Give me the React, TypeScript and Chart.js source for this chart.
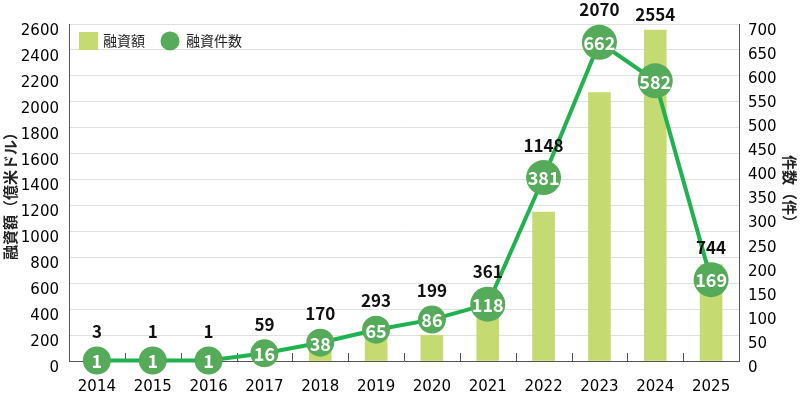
import React, { useEffect, useRef } from "react";
import { Chart, registerables } from "chart.js";

Chart.register(...registerables);

const years = ["2014", "2015", "2016", "2017", "2018", "2019", "2020", "2021", "2022", "2023", "2024", "2025"];
const amounts = [3, 1, 1, 59, 170, 293, 199, 361, 1148, 2070, 2554, 744];
const counts = [1, 1, 1, 16, 38, 65, 86, 118, 381, 662, 582, 169];
const amountLabel = "融資額";
const countLabel = "融資件数";
const leftTitle = "融資額（億米ドル）";
const rightTitle = "件数（件）";

const BAR_COLOR = "#c5db71";
const LINE_COLOR = "#1fb24e";
const POINT_COLOR = "#56ab5a";
const CJK = "'Noto Sans CJK JP', 'Noto Sans', sans-serif";
const TICK_FONT = "'DejaVu Sans', sans-serif";

const pointRadius = (v: number) => (v >= 100 ? 17.5 : 14);

const categoryTicks = {
  id: "categoryTicks",
  beforeDatasetsDraw(chart: any) {
    const { ctx, chartArea } = chart;
    const x = chart.scales.x;
    const n = years.length;
    const w = (chartArea.right - chartArea.left) / n;
    ctx.save();
    ctx.strokeStyle = "#555";
    ctx.lineWidth = 1;
    for (let i = 1; i < n; i++) {
      const px = Math.round(x.left + i * w) + 0.5;
      ctx.beginPath();
      ctx.moveTo(px, chartArea.bottom);
      ctx.lineTo(px, chartArea.bottom - 8);
      ctx.stroke();
    }
    ctx.restore();
  },
};

const valueLabels = {
  id: "valueLabels",
  afterDatasetsDraw(chart: any) {
    const { ctx } = chart;
    const barMeta = chart.getDatasetMeta(1);
    const lineMeta = chart.getDatasetMeta(0);
    ctx.save();
    ctx.textAlign = "center";
    ctx.textBaseline = "middle";
    for (let i = 0; i < years.length; i++) {
      const bar = barMeta.data[i];
      const pt = lineMeta.data[i];
      const top = Math.min(bar.y, pt.y - pointRadius(counts[i]));
      ctx.fillStyle = "#111";
      ctx.font = `bold 17px ${CJK}`;
      ctx.fillText(String(amounts[i]), bar.x, top - 15);
      ctx.fillStyle = "#fff";
      ctx.font = `bold 18px ${CJK}`;
      ctx.fillText(String(counts[i]), pt.x, pt.y + 1);
    }
    ctx.restore();
  },
};

const customLegend = {
  id: "customLegend",
  afterDraw(chart: any) {
    const { ctx, chartArea } = chart;
    const x0 = chartArea.left + 10;
    const cy = chartArea.top + 17;
    ctx.save();
    ctx.fillStyle = BAR_COLOR;
    ctx.fillRect(x0, cy - 9, 19, 18);
    ctx.font = `14px ${CJK}`;
    ctx.textBaseline = "middle";
    ctx.textAlign = "left";
    ctx.fillStyle = "#222";
    ctx.fillText(amountLabel, x0 + 24, cy);
    const w1 = ctx.measureText(amountLabel).width;
    const cx = x0 + 24 + w1 + 25;
    ctx.fillStyle = POINT_COLOR;
    ctx.beginPath();
    ctx.arc(cx, cy, 9.5, 0, Math.PI * 2);
    ctx.fill();
    ctx.fillStyle = "#222";
    ctx.fillText(countLabel, cx + 16, cy);
    ctx.restore();
  },
};

export default function App() {
  const ref = useRef<HTMLCanvasElement>(null);
  useEffect(() => {
    if (!ref.current) return;
    const chart = new Chart(ref.current, {
      type: "bar",
      data: {
        labels: years,
        datasets: [
          {
            type: "line",
            label: countLabel,
            data: counts,
            yAxisID: "y1",
            borderColor: LINE_COLOR,
            borderWidth: 4,
            backgroundColor: POINT_COLOR,
            pointBackgroundColor: POINT_COLOR,
            pointBorderWidth: 0,
            pointRadius: (c: any) => pointRadius(c.raw),
            tension: 0,
            clip: false,
            order: 0,
          } as any,
          {
            type: "bar",
            label: amountLabel,
            data: amounts,
            yAxisID: "y",
            backgroundColor: BAR_COLOR,
            barThickness: 22,
            order: 1,
          },
        ],
      },
      options: {
        responsive: false,
        animation: false,
        layout: { padding: { top: 24, left: 0, right: 0, bottom: 0 } },
        plugins: { legend: { display: false }, tooltip: { enabled: false } },
        scales: {
          x: {
            grid: { display: false },
            border: { display: true, color: "#555", width: 1 },
            ticks: { color: "#000", font: { family: TICK_FONT, size: 15 }, padding: 9, maxRotation: 0 },
            afterFit(s: any) { s.height = 36; },
          },
          y: {
            position: "left",
            min: 0,
            max: 2600,
            ticks: { stepSize: 200, color: "#000", font: { family: TICK_FONT, size: 15 }, padding: 10, labelOffset: 7, callback: (v: any) => String(v) },
            grid: { color: "#e0e0e0", lineWidth: 1, drawTicks: false },
            border: { display: true, color: "#555", width: 1 },
            title: { display: true, text: leftTitle, color: "#222", font: { family: CJK, size: 15, weight: "bold" }, padding: { top: 1, bottom: 0 } },
            afterFit(s: any) { s.width = 69; },
          },
          y1: {
            position: "right",
            min: 0,
            max: 700,
            ticks: { stepSize: 50, color: "#000", font: { family: TICK_FONT, size: 15 }, padding: 9, labelOffset: 7, callback: (v: any) => String(v) },
            grid: { drawOnChartArea: false, drawTicks: false },
            border: { display: true, color: "#555", width: 1 },
            title: { display: true, text: rightTitle, color: "#222", font: { family: CJK, size: 15, weight: "bold" }, padding: { top: 1, bottom: 0 } },
            afterFit(s: any) { s.width = 61; },
          },
        },
      },
      plugins: [categoryTicks, valueLabels, customLegend],
    });
    return () => chart.destroy();
  }, []);
  return (
    <div style={{ position: "absolute", left: 0, top: 0, width: 800, height: 397, background: "#fff" }}>
      <canvas ref={ref} width={800} height={397} style={{ display: "block" }} />
    </div>
  );
}
